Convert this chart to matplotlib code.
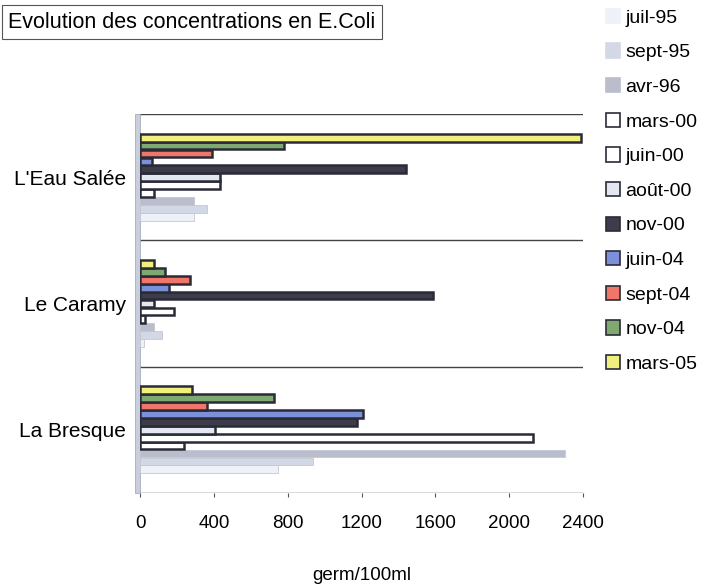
import matplotlib
matplotlib.use("Agg")
import matplotlib.pyplot as plt
from matplotlib.patches import Rectangle, Patch
import numpy as np

plt.rcParams['font.family'] = ['Liberation Sans', 'DejaVu Sans']

# Sampling sites (bottom to top)
sites = ["La Bresque", "Le Caramy", "L'Eau Salée"]

# Sampling campaigns
campaigns = ["juil-95", "sept-95", "avr-96", "mars-00", "juin-00", "août-00",
             "nov-00", "juin-04", "sept-04", "nov-04", "mars-05"]

# E. coli concentrations (germ/100ml), one list per campaign: [La Bresque, Le Caramy, L'Eau Salée]
juil_95 = [750, 20, 290]
sept_95 = [935, 120, 365]
avr_96 = [2300, 75, 290]
mars_00 = [240, 25, 75]
juin_00 = [2130, 185, 435]
aout_00 = [405, 75, 435]
nov_00 = [1175, 1590, 1440]
juin_04 = [1210, 155, 65]
sept_04 = [365, 270, 390]
nov_04 = [725, 135, 780]
mars_05 = [280, 75, 2390]

values = [juil_95, sept_95, avr_96, mars_00, juin_00, aout_00,
          nov_00, juin_04, sept_04, nov_04, mars_05]

colors = ["#eef2f8", "#d3d8e6", "#b9bdcc", "#ffffff", "#ffffff", "#e3e7f0",
          "#3c3c4a", "#7b90d8", "#f0766a", "#7eaa72", "#f2f07c"]
outlined = [False, False, False, True, True, True, True, True, True, True, True]
edge_dark = "#2b2b38"

fig = plt.figure(figsize=(7.13, 5.88), dpi=100)
ax = fig.add_axes([140 / 713, 1 - 493 / 588, (583 - 140) / 713, (493 - 114) / 588])

n = len(campaigns)
h = 0.0625
y = np.arange(len(sites))
for i, (lab, vals, col, ol) in enumerate(zip(campaigns, values, colors, outlined)):
    off = (i - (n - 1) / 2) * h
    ax.barh(y + off, vals, height=h * 0.98, color=col,
            edgecolor=edge_dark if ol else "#c4c8d4",
            linewidth=1.8 if ol else 0.6, zorder=3)

ax.set_xlim(0, 2400)
ax.set_ylim(-0.5, 2.5)
ax.set_xticks([0, 400, 800, 1200, 1600, 2000, 2400])
ax.set_yticks(y)
ax.set_yticklabels(sites)
ax.tick_params(axis='y', length=0, pad=10, labelsize=15)
ax.tick_params(axis='x', length=3, pad=13, labelsize=13.5, color="#555555")

# category separators
for yy in [-0.5, 0.5, 1.5, 2.5]:
    ax.axhline(yy, color="#444444", linewidth=1.0, zorder=1)
for s in ax.spines.values():
    s.set_visible(False)

# side wall of the chart
ax.add_patch(Rectangle((-0.012, -0.5), 0.012, 3.0, transform=ax.get_yaxis_transform(),
                       facecolor="#c9cedd", edgecolor="#9aa0b0", linewidth=0.5,
                       clip_on=False, zorder=2))

fig.text(362 / 713, 1 - 575 / 588, "germ/100ml", fontsize=13.5, ha="center", va="center")

# title box
fig.text(8 / 713, 1 - 22 / 588, "Evolution des concentrations en E.Coli",
         fontsize=15.5, va="center", ha="left",
         bbox=dict(boxstyle="square,pad=0.3", facecolor="white",
                   edgecolor="#555555", linewidth=0.8))

handles = [Patch(facecolor=c, edgecolor=(edge_dark if ol else c), linewidth=1.2)
           for c, ol in zip(colors, outlined)]
fig.legend(handles, campaigns, loc="upper left", bbox_to_anchor=(598 / 713, 1 - 1 / 588),
           frameon=False, fontsize=14, handlelength=0.75, handleheight=0.75,
           handletextpad=0.25, labelspacing=0.86, borderaxespad=0)

fig.savefig("out.png", dpi=100)
